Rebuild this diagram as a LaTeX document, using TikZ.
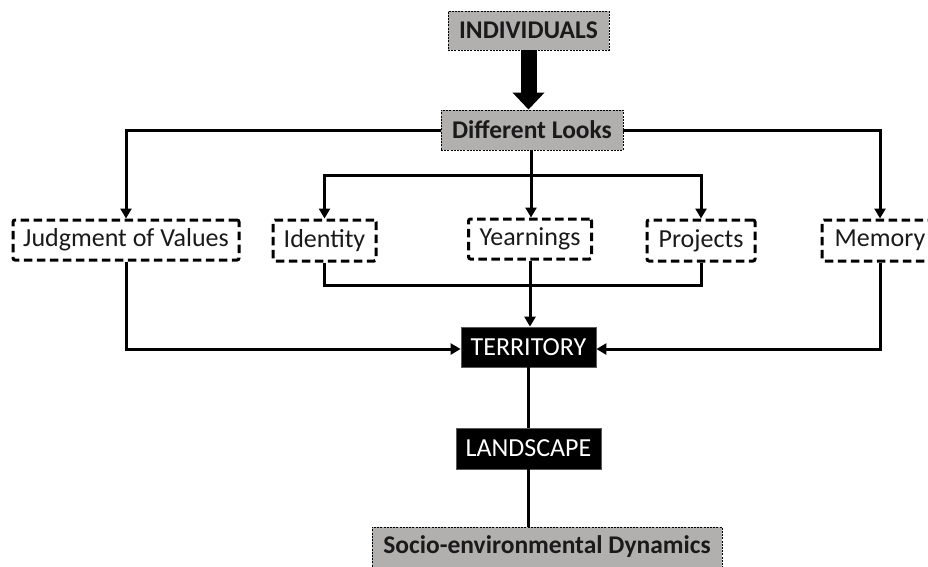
\documentclass[tikz,border=0pt]{standalone}
\usepackage{fontspec}
\setmainfont{Carlito}
\usetikzlibrary{arrows.meta}
\definecolor{boxgray}{HTML}{B2AFAF}
\definecolor{txtdark}{HTML}{1A1A1A}
\tikzset{
  graybox/.style={draw=black, line width=0.9pt, dash pattern=on 2pt off 1.2pt, fill=boxgray,
    text=txtdark, font=\fontsize{25.5}{29}\selectfont\bfseries, inner sep=0pt, anchor=center},
  dashbox/.style={draw=black, line width=3pt, dash pattern=on 8.5pt off 4.5pt, rounded corners=2pt,
    fill=white, text=txtdark, font=\fontsize{26}{30}\selectfont, inner sep=0pt},
  blackbox/.style={draw=gray!70!black, line width=0.8pt, fill=black, text=white,
    font=\fontsize{26}{30}\selectfont, inner sep=0pt},
  conn/.style={line width=3pt, draw=black},
  arr/.style={conn, -{Triangle[length=10pt,width=11pt]}},
  bigarr/.style={draw=black, line width=16pt, -{Triangle[length=17pt,width=31pt]}}
}
\begin{document}
\begin{tikzpicture}[x=1pt,y=-1pt]
\useasboundingbox (0,0) rectangle (928,566);
\clip (0,0) rectangle (928,566);
\fill[white] (0,0) rectangle (928,566);
% nodes
\node[graybox, minimum width=161pt, minimum height=39pt] (ind) at (528.5,30.5) {INDIVIDUALS};
\node[graybox, minimum width=182pt, minimum height=40pt] (dl) at (532,130) {Different Looks};
\node[dashbox, minimum width=226pt, minimum height=40pt] (jv) at (126,240) {Judgment of Values};
\node[dashbox, minimum width=103pt, minimum height=41pt] (id) at (324.5,240.5) {Identity};
\node[dashbox, minimum width=123pt, minimum height=40pt] (ye) at (530,239) {Yearnings};
\node[dashbox, minimum width=108pt, minimum height=41pt] (pr) at (701,240.5) {Projects};
\node[dashbox, minimum width=116pt, minimum height=41pt] (me) at (880,240.5) {Memory};
\node[blackbox, minimum width=135pt, minimum height=40pt] (te) at (528.5,347) {TERRITORY};
\node[blackbox, minimum width=145pt, minimum height=41pt] (la) at (528.5,448.5) {LANDSCAPE};
\node[graybox, minimum width=350pt, minimum height=40pt] (so) at (547,547) {Socio-environmental Dynamics};
\coordinate (hub) at (531,175);
% connectors
\draw[bigarr] (ind.south) -- (ind.south |- dl.north);
\draw[arr] (dl.west) -| (jv.north);
\draw[arr] (dl.east) -| (me.north);
\draw[conn] (dl.south -| hub) -- (hub);
\draw[arr] (hub) -| (id.north);
\draw[arr] (hub) -| (pr.north);
\draw[arr] (hub) -- (hub |- ye.north);
\draw[conn] (id.south) -- ++(0,23) -| (pr.south);
\draw[arr] (ye.south) -- (ye.south |- te.north);
\draw[arr] (jv.south) |- ([yshift=-2pt]te.west);
\draw[arr] (me.south) |- ([yshift=-2pt]te.east);
\draw[conn] (te.south) -- (la.north);
\draw[conn] (la.south) -- (la.south |- so.north);
\end{tikzpicture}
\end{document}
